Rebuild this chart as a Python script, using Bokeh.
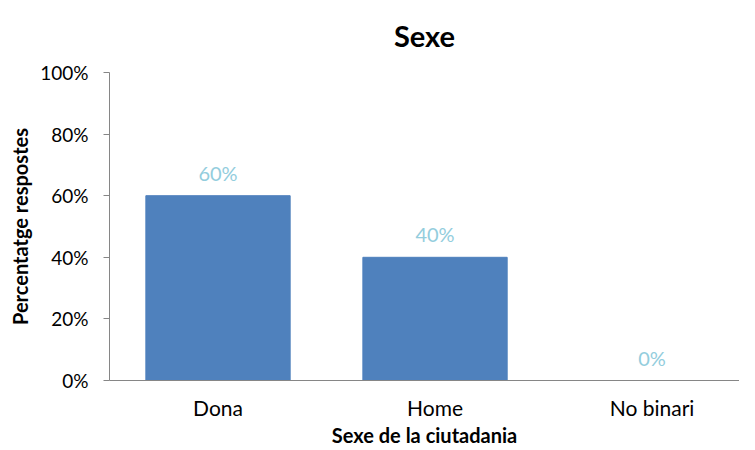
from bokeh.plotting import figure
from bokeh.models import Range1d, FixedTicker, NumeralTickFormatter, ColumnDataSource, LabelSet
from bokeh.core.properties import value
from bokeh.embed import file_html
from bokeh.resources import INLINE

title_text = "Sexe"
categories = ["Dona", "Home", "No binari"]
values = [0.60, 0.40, 0.0]
labels = ["60%", "40%", "0%"]
y_ticks = [0, 0.2, 0.4, 0.6, 0.8, 1.0]

xs = [i + 0.5 for i in range(len(categories))]
src = ColumnDataSource(dict(x=xs, top=values, lab=labels))

FONT = "Lato"

p = figure(frame_width=630, frame_height=308, output_backend="svg", toolbar_location=None,
           x_range=Range1d(0, 2.903), y_range=Range1d(0, 1),
           min_border_left=109, min_border_right=0, min_border_top=65, min_border_bottom=69)
p.title.text = title_text
p.title.text_font = FONT
p.title.text_font_size = "29px"
p.title.text_font_style = "bold"
p.title.text_color = "#000000"
p.title.align = "center"
p.title.vertical_align = "top"
p.title.offset = -15
p.title.standoff = 35

p.vbar(x="x", top="top", width=0.665, bottom=0, source=src, color="#4F81BD")
p.add_layout(LabelSet(x="x", y="top", text="lab", source=src, text_align="center",
                      text_baseline="alphabetic", y_offset=15, text_color="#93CDDD",
                      text_font=value(FONT), text_font_size=value("20px")))

p.xgrid.visible = False
p.ygrid.visible = False
p.outline_line_color = None

p.xaxis.ticker = FixedTicker(ticks=xs)
p.xaxis.major_label_overrides = {x: c for x, c in zip(xs, categories)}
p.xaxis.major_tick_line_color = None
p.xaxis.major_tick_out = 0
p.xaxis.major_tick_in = 0
p.xaxis.minor_tick_line_color = None
p.xaxis.axis_line_color = "#868686"
p.xaxis.major_label_text_font = FONT
p.xaxis.major_label_text_font_size = "21px"
p.xaxis.major_label_text_color = "#000000"
p.xaxis.major_label_standoff = 14
p.xaxis.axis_label = "Sexe de la ciutadania"
p.xaxis.axis_label_text_font = FONT
p.xaxis.axis_label_text_font_size = "20px"
p.xaxis.axis_label_text_font_style = "bold"
p.xaxis.axis_label_text_color = "#000000"
p.xaxis.axis_label_standoff = 0

p.yaxis.ticker = FixedTicker(ticks=y_ticks)
p.yaxis.formatter = NumeralTickFormatter(format="0%")
p.yaxis.axis_line_color = "#868686"
p.yaxis.major_tick_line_color = "#868686"
p.yaxis.major_tick_out = 6
p.yaxis.major_tick_in = 0
p.yaxis.minor_tick_line_color = None
p.yaxis.major_label_text_font = FONT
p.yaxis.major_label_text_font_size = "19px"
p.yaxis.major_label_text_color = "#000000"
p.yaxis.major_label_standoff = 15
p.yaxis.axis_label = "Percentatge respostes"
p.yaxis.axis_label_text_font = FONT
p.yaxis.axis_label_text_font_size = "20px"
p.yaxis.axis_label_text_font_style = "bold"
p.yaxis.axis_label_text_color = "#000000"

open("out.html", "w").write(file_html(p, INLINE))
